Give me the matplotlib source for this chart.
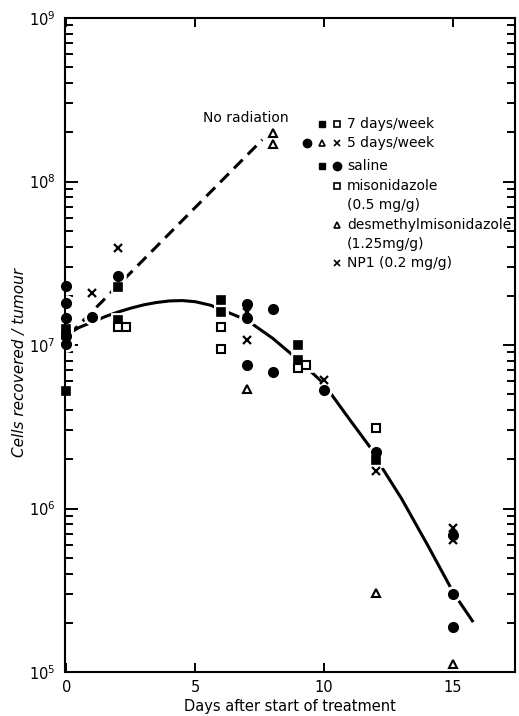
import matplotlib
matplotlib.use("Agg")
import matplotlib.pyplot as plt
from matplotlib.ticker import LogLocator, FixedLocator

# 7 days/week, saline (filled squares)
sq_fill_days = [0, 0, 0, 2, 2, 6, 6, 9, 9, 12]
sq_fill_vals = [1.25e7, 1.15e7, 5.2e6, 2.26e7, 1.42e7, 1.88e7, 1.59e7, 1.0e7, 8.1e6, 1.98e6]

# 7 days/week, misonidazole (open squares)
sq_open_days = [2.0, 2.3, 6, 6, 9.0, 9.3, 12]
sq_open_vals = [1.29e7, 1.29e7, 1.29e7, 9.5e6, 7.2e6, 7.5e6, 3.1e6]

# 5 days/week, saline (filled circles)
circ_days = [0, 0, 0, 0, 0, 1, 2, 7, 7, 7, 8, 8, 10, 12, 15, 15, 15]
circ_vals = [2.3e7, 1.81e7, 1.46e7, 1.13e7, 1.01e7, 1.48e7, 2.64e7, 1.78e7, 1.46e7,
             7.55e6, 1.66e7, 6.8e6, 5.3e6, 2.22e6, 6.9e5, 3.0e5, 1.88e5]

# 5 days/week, desmethylmisonidazole (open triangles)
tri_days = [7, 8, 8, 12, 15]
tri_vals = [5.4e6, 1.98e8, 1.70e8, 3.04e5, 1.12e5]

# 5 days/week, NP1 (crosses)
x_days = [1, 2, 7, 7, 10, 12, 15, 15]
x_vals = [2.08e7, 3.92e7, 1.59e7, 1.07e7, 6.1e6, 1.69e6, 7.6e5, 6.4e5]

# hand-drawn curves
curve_days = [0.1, 0.5, 1.0, 1.5, 2.0, 2.5, 3.0, 3.5, 4.0, 4.5, 5.0, 5.6, 6.24, 7.0,
              8.0, 9.0, 9.96, 11.0, 11.86, 12.25, 13.0, 14.03, 15.04, 15.78]
curve_vals = [1.18e7, 1.28e7, 1.38e7, 1.49e7, 1.59e7, 1.68e7, 1.76e7, 1.82e7, 1.86e7,
              1.87e7, 1.84e7, 1.75e7, 1.59e7, 1.42e7, 1.10e7, 8.1e6, 5.86e6, 3.48e6,
              2.28e6, 1.77e6, 1.15e6, 5.9e5, 3.0e5, 2.02e5]
norad_days = [0.1, 7.6]
norad_vals = [1.15e7, 1.8e8]

fig = plt.figure(figsize=(5.19, 7.16), dpi=100)
ax = fig.add_axes([65/519, 44/716, 450/519, 654/716])

ax.plot(curve_days, curve_vals, color='black', lw=2.2, solid_capstyle='butt')
ax.plot(norad_days, norad_vals, color='black', lw=2.2, dashes=(4, 2.4))

groups = [
    (sq_fill_days, sq_fill_vals, dict(marker='s', ms=6, mfc='black', mec='black', mew=1.2)),
    (sq_open_days, sq_open_vals, dict(marker='s', ms=6, mfc='white', mec='black', mew=1.5)),
    (circ_days, circ_vals, dict(marker='o', ms=7, mfc='black', mec='black', mew=1)),
    (tri_days, tri_vals, dict(marker='^', ms=6, mfc='white', mec='black', mew=1.5)),
    (x_days, x_vals, dict(marker='x', ms=5.5, mfc='none', mec='black', mew=1.6)),
]
# white halos first (below the spines) so the lines look broken around the points
for d, v, st in groups:
    ax.plot(d, v, ls='none', marker=st['marker'], ms=st['ms'] + 3, mfc='white',
            mec='white', mew=2, zorder=2.2, clip_on=False)
for d, v, st in groups:
    ax.plot(d, v, ls='none', zorder=3, clip_on=False, **st)

ax.set_yscale('log')
ax.set_ylim(1e5, 1e9)
ax.set_xlim(-0.05, 17.4)
ax.xaxis.set_major_locator(FixedLocator([0, 5, 10, 15]))
ax.set_xticklabels(['0', '5', '10', '15'])
ax.yaxis.set_major_locator(LogLocator(base=10))
ax.yaxis.set_minor_locator(LogLocator(base=10, subs=range(2, 10)))
ax.yaxis.set_minor_formatter(plt.NullFormatter())

ax.tick_params(axis='both', which='both', direction='in', top=True, right=True,
               labelsize=10.5, width=1.4, pad=7)
ax.tick_params(axis='y', which='major', length=9)
ax.tick_params(axis='y', which='minor', length=6)
ax.tick_params(axis='x', which='major', length=6.5, pad=6)
for s in ax.spines.values():
    s.set_linewidth(1.5)

ax.set_xlabel('Days after start of treatment', fontsize=10.5, labelpad=3)
ax.set_ylabel('Cells recovered / tumour', fontsize=11, style='italic')
ax.yaxis.set_label_coords(-0.085, 0.474)

# legend drawn by hand
ax.text(0.307, 0.847, 'No radiation', transform=ax.transAxes, fontsize=10, va='center')
mk = dict(transform=ax.transAxes, ls='none', color='black', clip_on=False)
cols = [0.538, 0.571, 0.604]
tx = 0.627
ax.plot([cols[1]], [0.838], marker='s', ms=5, **mk)
ax.plot([cols[2]], [0.838], marker='s', ms=5, mfc='white', mew=1.2, **mk)
ax.text(tx, 0.838, '7 days/week', transform=ax.transAxes, fontsize=10, va='center')
ax.plot([cols[0]], [0.809], marker='o', ms=6, **mk)
ax.plot([cols[1]], [0.809], marker='^', ms=5, mfc='white', mew=1.2, **mk)
ax.plot([cols[2]], [0.809], marker='x', ms=4.5, mew=1.2, **mk)
ax.text(tx, 0.809, '5 days/week', transform=ax.transAxes, fontsize=10, va='center')
ax.plot([cols[1]], [0.774], marker='s', ms=5, **mk)
ax.plot([cols[2]], [0.774], marker='o', ms=6, **mk)
ax.text(tx, 0.774, 'saline', transform=ax.transAxes, fontsize=10, va='center')
ax.plot([cols[2]], [0.743], marker='s', ms=5, mfc='white', mew=1.2, **mk)
ax.text(tx, 0.743, 'misonidazole', transform=ax.transAxes, fontsize=10, va='center')
ax.text(tx, 0.714, '(0.5 mg/g)', transform=ax.transAxes, fontsize=10, va='center')
ax.plot([cols[2]], [0.683], marker='^', ms=5, mfc='white', mew=1.2, **mk)
ax.text(tx, 0.683, 'desmethylmisonidazole', transform=ax.transAxes, fontsize=10, va='center')
ax.text(tx, 0.655, '(1.25mg/g)', transform=ax.transAxes, fontsize=10, va='center')
ax.plot([cols[2]], [0.625], marker='x', ms=4.5, mew=1.2, **mk)
ax.text(tx, 0.625, 'NP1 (0.2 mg/g)', transform=ax.transAxes, fontsize=10, va='center')

fig.savefig('out.png', dpi=100)
